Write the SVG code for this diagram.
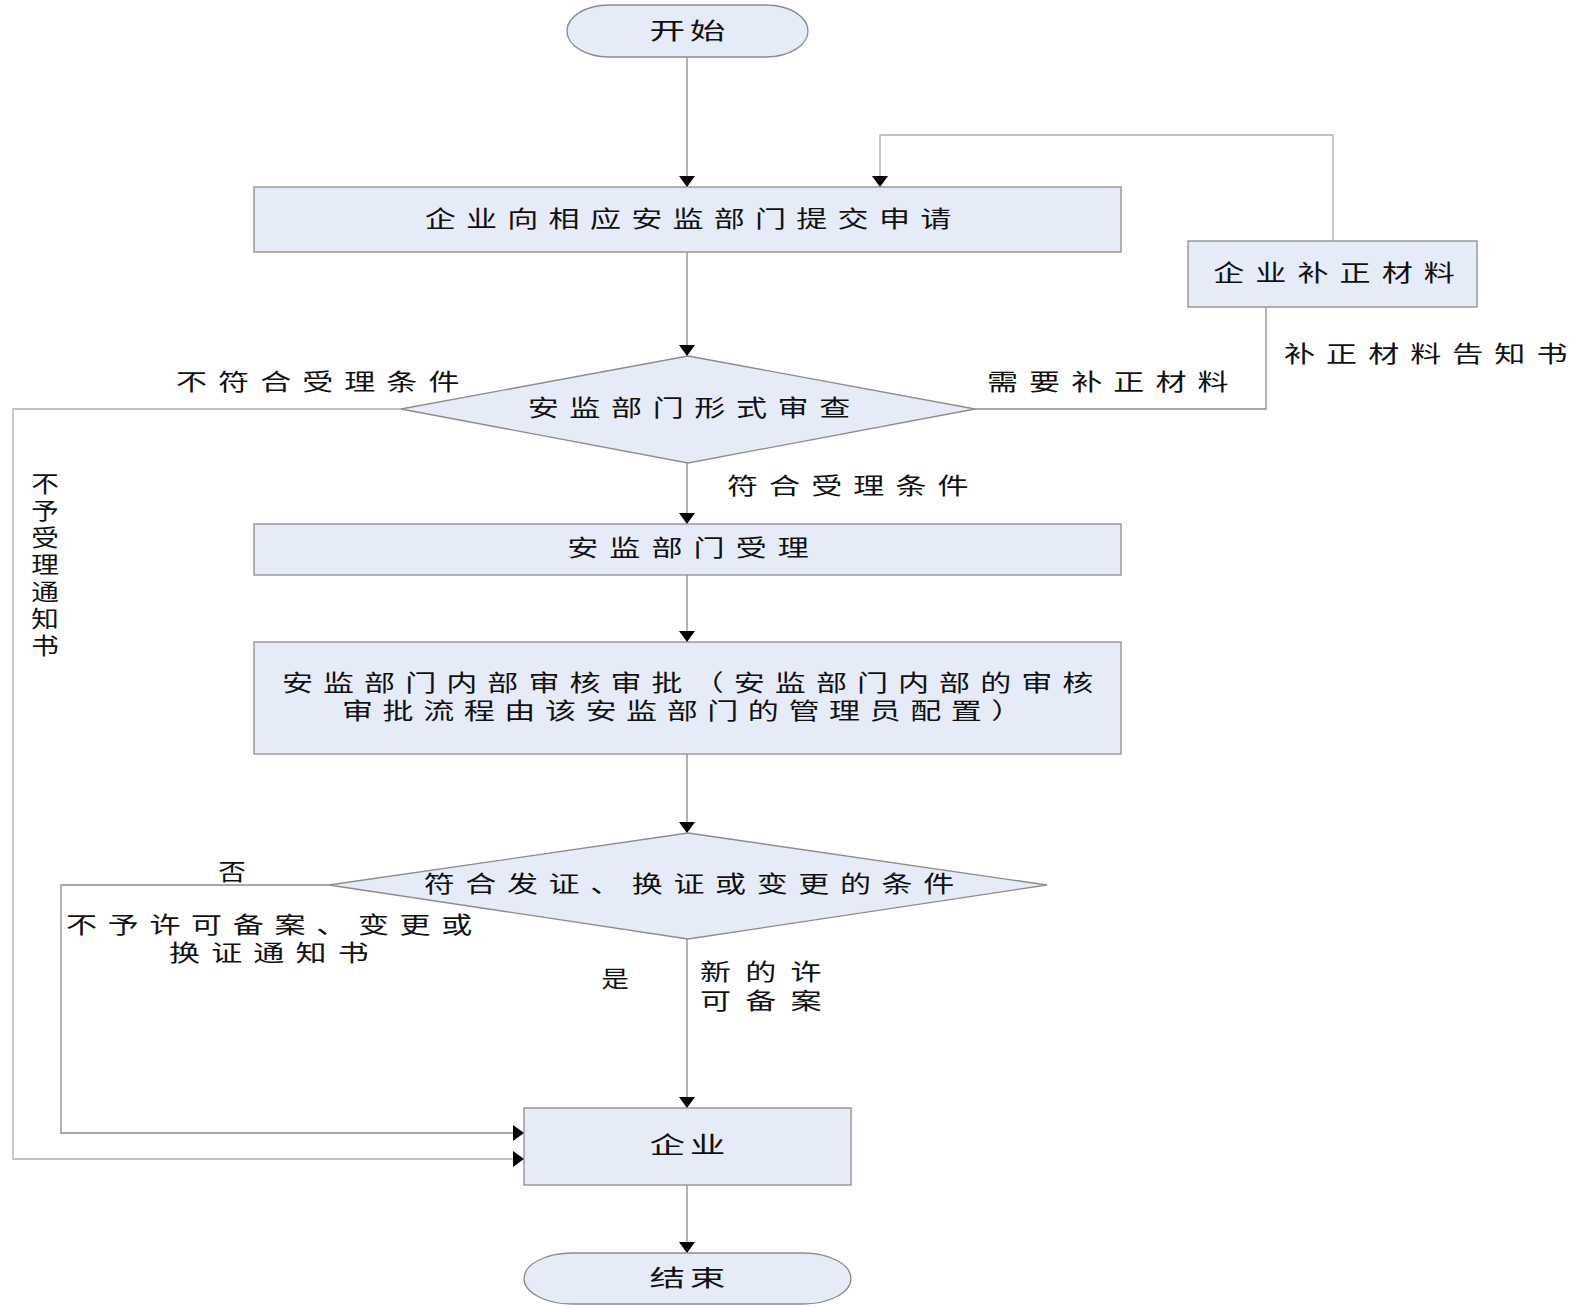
<svg xmlns="http://www.w3.org/2000/svg" width="1579" height="1308" viewBox="0 0 1579 1308">
<style>
.shape{fill:#e6ecf7;stroke:#8c8c8c;stroke-width:1.3}
.t{font-family:"Liberation Serif","Noto Sans CJK SC",serif;font-size:23px;fill:#111;dominant-baseline:central}
.c{text-anchor:middle}
.ln{fill:none;stroke:#8a8a8a;stroke-width:1.3}
.lnl{fill:none;stroke:#b0b0b0;stroke-width:1.3}
</style>
<defs>
<marker id="arr" markerUnits="userSpaceOnUse" markerWidth="11" markerHeight="16" viewBox="0 0 11 16" refX="11" refY="8" orient="auto">
<path d="M0,0 L11,8 L0,16 Z" fill="#000"/>
</marker>
</defs>
<rect width="1579" height="1308" fill="#fff"/>

<g id="connectors">
<line class="ln" x1="687" y1="57" x2="687" y2="187" marker-end="url(#arr)"/>
<line class="ln" x1="687" y1="252" x2="687" y2="356" marker-end="url(#arr)"/>
<line class="ln" x1="687" y1="463" x2="687" y2="524" marker-end="url(#arr)"/>
<line class="ln" x1="687" y1="575" x2="687" y2="642" marker-end="url(#arr)"/>
<line class="ln" x1="687" y1="754" x2="687" y2="833" marker-end="url(#arr)"/>
<line class="ln" x1="687" y1="939" x2="687" y2="1108" marker-end="url(#arr)"/>
<line class="ln" x1="687" y1="1185" x2="687" y2="1253" marker-end="url(#arr)"/>
<polyline class="ln" points="975,409 1266,409 1266,307"/>
<polyline class="lnl" points="1333,241 1333,135 880,135 880,187" marker-end="url(#arr)"/>
<polyline class="lnl" points="401,409 13,409 13,1159 524,1159" marker-end="url(#arr)"/>
<polyline class="ln" points="329,885 61,885 61,1133 524,1133" marker-end="url(#arr)"/>
</g>

<g id="start">
<rect class="shape" x="567" y="5" width="241" height="52" rx="42" ry="26"/>
<text class="t c" transform="translate(687.5,31) scale(1.55,1)" textLength="49">开始</text>
</g>

<g id="submit">
<rect class="shape" x="254" y="187" width="867" height="65"/>
<text class="t c" transform="translate(688,219) scale(1.35,1)" textLength="390">企业向相应安监部门提交申请</text>
</g>

<g id="supplement">
<rect class="shape" x="1188" y="241" width="289" height="66"/>
<text class="t c" transform="translate(1334,273) scale(1.35,1)" textLength="179">企业补正材料</text>
</g>

<g id="check">
<polygon class="shape" points="688,356 975,409 688,463 401,409"/>
<text class="t c" transform="translate(689,408) scale(1.35,1)" textLength="239">安监部门形式审查</text>
</g>

<g id="accept">
<rect class="shape" x="254" y="524" width="867" height="51"/>
<text class="t c" transform="translate(688,548) scale(1.35,1)" textLength="179">安监部门受理</text>
</g>

<g id="review">
<rect class="shape" x="254" y="642" width="867" height="112"/>
<text class="t" transform="translate(282,683) scale(1.35,1)" textLength="601">安监部门内部审核审批（安监部门内部的审核</text>
<text class="t" transform="translate(342,711) scale(1.35,1)" textLength="504">审批流程由该安监部门的管理员配置）</text>
</g>

<g id="decision">
<polygon class="shape" points="688,833 1047,885 688,939 329,885"/>
<text class="t c" transform="translate(689,884) scale(1.35,1)" textLength="393">符合发证、换证或变更的条件</text>
</g>

<g id="enterprise">
<rect class="shape" x="524" y="1108" width="327" height="77"/>
<text class="t c" transform="translate(687.5,1145) scale(1.55,1)" textLength="49">企业</text>
</g>

<g id="end">
<rect class="shape" x="524" y="1253" width="327" height="51" rx="48" ry="25.5"/>
<text class="t c" transform="translate(687.5,1278) scale(1.55,1)" textLength="49">结束</text>
</g>

<g id="labels">
<text class="t" transform="translate(176,382) scale(1.35,1)" textLength="210">不符合受理条件</text>
<text class="t" transform="translate(987,382) scale(1.35,1)" textLength="179">需要补正材料</text>
<text class="t" transform="translate(1284,354) scale(1.35,1)" textLength="210">补正材料告知书</text>
<text class="t" transform="translate(727,486) scale(1.35,1)" textLength="179">符合受理条件</text>
<text class="t c" transform="translate(45,0) scale(1.2,1)">
<tspan x="0" y="484">不</tspan><tspan x="0" y="511">予</tspan><tspan x="0" y="538">受</tspan><tspan x="0" y="565">理</tspan><tspan x="0" y="592">通</tspan><tspan x="0" y="619">知</tspan><tspan x="0" y="646">书</tspan>
</text>
<text class="t c" transform="translate(232,872) scale(1.2,1)">否</text>
<text class="t" transform="translate(66,925) scale(1.35,1)" textLength="301">不予许可备案、变更或</text>
<text class="t" transform="translate(169,953) scale(1.35,1)" textLength="148">换证通知书</text>
<text class="t c" transform="translate(615,979) scale(1.2,1)">是</text>
<text class="t" transform="translate(700,972) scale(1.35,1)" textLength="90">新的许</text>
<text class="t" transform="translate(700,1001) scale(1.35,1)" textLength="90">可备案</text>
</g>
</svg>
